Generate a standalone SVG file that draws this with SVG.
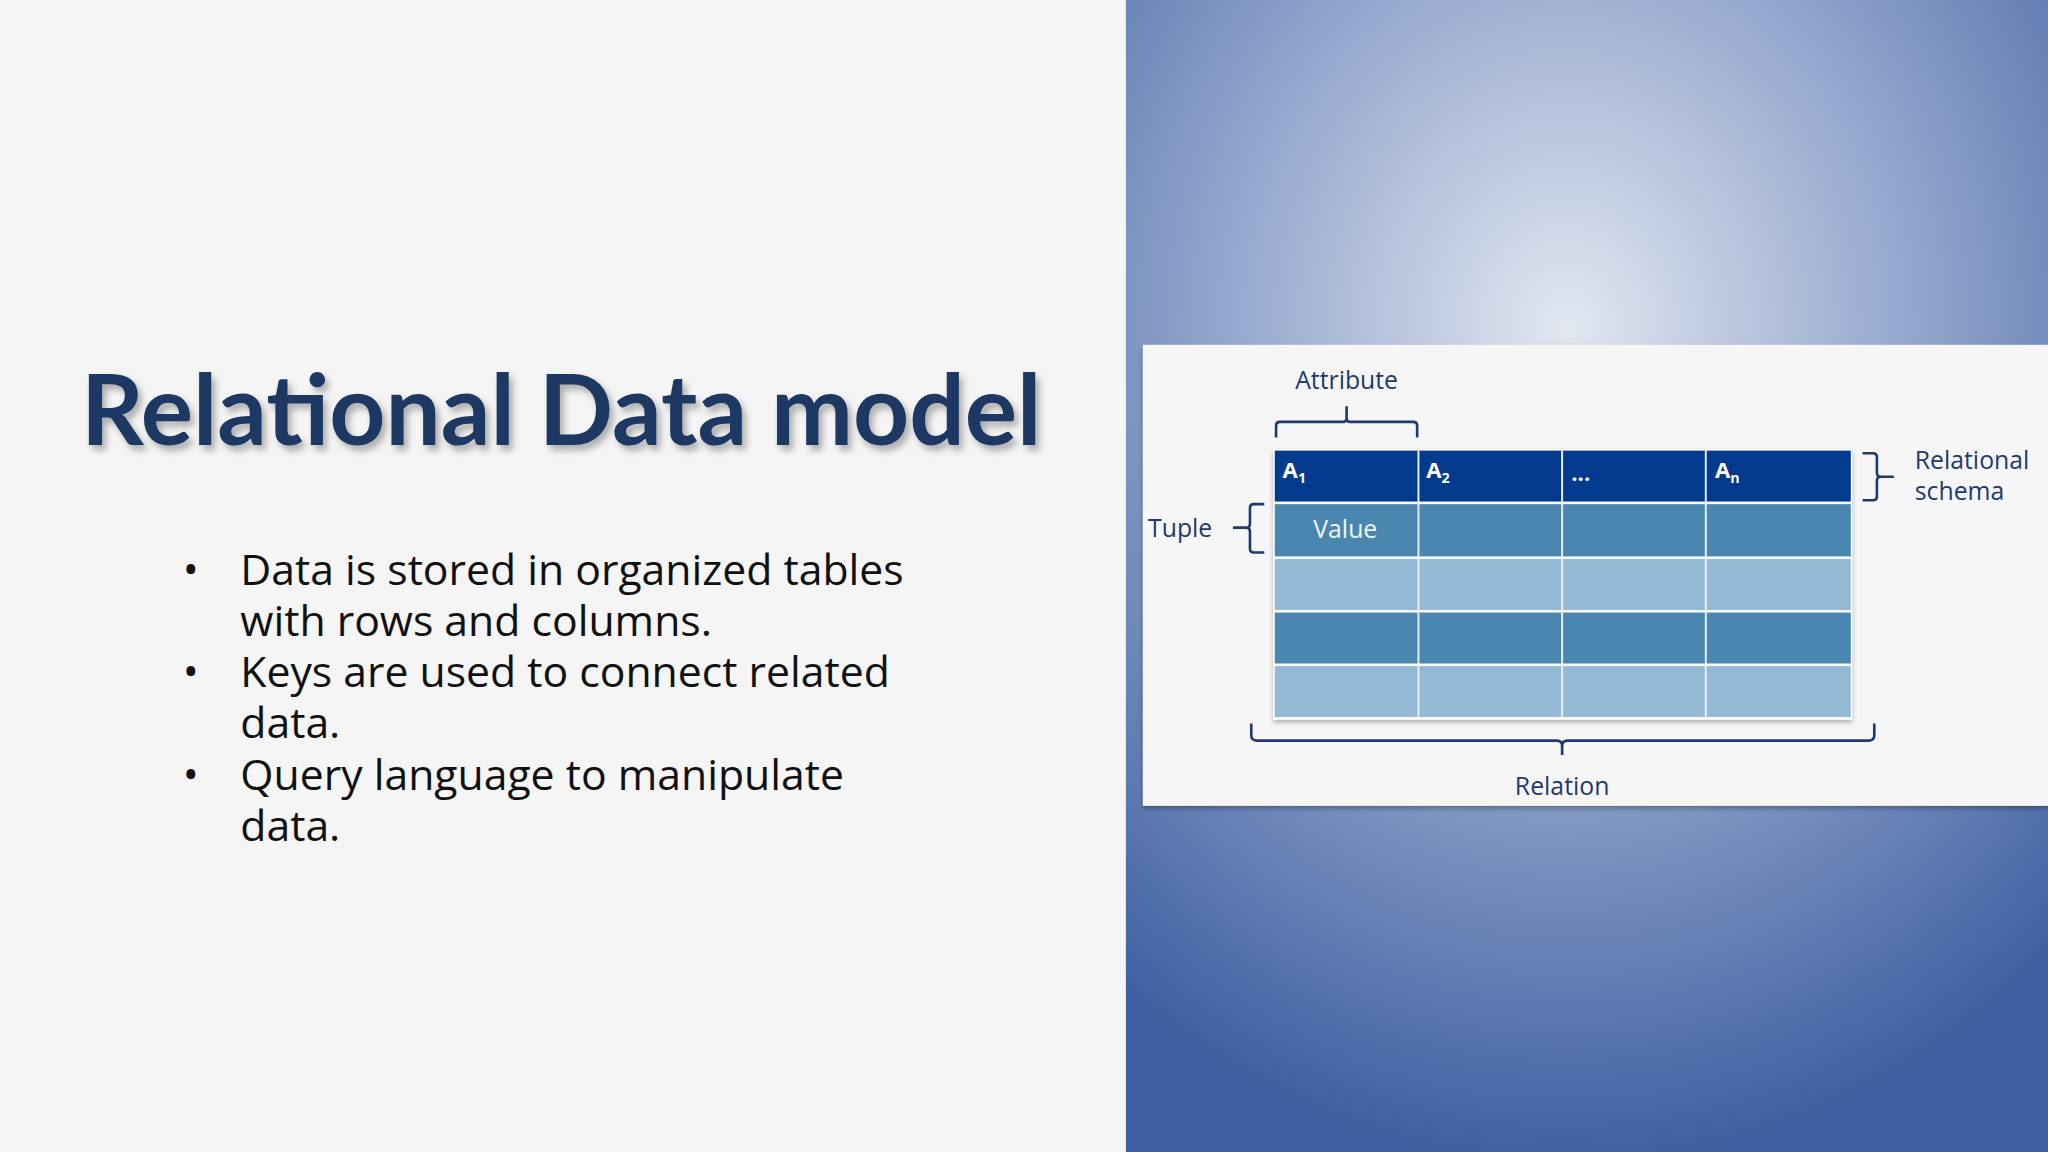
<svg xmlns="http://www.w3.org/2000/svg" width="2048" height="1152" viewBox="0 0 2048 1152">
<defs>
<radialGradient id="bg" cx="1200" cy="250" r="560" gradientUnits="userSpaceOnUse" gradientTransform="translate(1200 250) scale(1 1.15) translate(-1200 -250)">
<stop offset="0" stop-color="#e2e7f1"/><stop offset="0.4" stop-color="#9fb0d2"/><stop offset="1" stop-color="#3d5fa1"/>
</radialGradient>
<filter id="sh" x="-5%" y="-10%" width="110%" height="130%"><feDropShadow dx="3" dy="4" stdDeviation="3" flood-color="#000" flood-opacity="0.3"/></filter>
<filter id="cs"><feDropShadow dx="0" dy="2" stdDeviation="2" flood-color="#000" flood-opacity="0.3"/></filter>
</defs>
<style>
.b{fill:none;stroke:#1f3a6e;stroke-width:2}
.l{font-family:"Open Sans",sans-serif;font-size:19px;fill:#1f3a6e}
.h{font-family:"Open Sans",sans-serif;font-size:17px;font-weight:bold;fill:#fff}
.t{font-family:"Open Sans",sans-serif;font-size:32.7px;fill:#111}
.d{fill:#4a87b0}.g{fill:#93bad4}
</style>
<g transform="scale(1.306122)">
<rect x="0" y="0" width="1568" height="882" fill="#f5f5f5"/>
<rect x="862" y="0" width="706" height="882" fill="url(#bg)"/>
<text x="62" y="341" font-family="Lato, sans-serif" font-weight="bold" font-size="75" fill="#1f3864" filter="url(#sh)">Relational Data model</text>
<g id="bullets">
<text class="t" x="140" y="447">•</text><text class="t" x="184" y="448">Data is stored in organized tables</text>
<text class="t" x="184" y="487">with rows and columns.</text>
<text class="t" x="140" y="525">•</text><text class="t" x="184" y="526">Keys are used to connect related</text>
<text class="t" x="184" y="565">data.</text>
<text class="t" x="140" y="604">•</text><text class="t" x="184" y="605">Query language to manipulate</text>
<text class="t" x="184" y="644">data.</text>
</g>
<rect x="875" y="264" width="693" height="353" fill="#f6f6f6" filter="url(#cs)"/>
<g id="table">
<rect x="975" y="344" width="443" height="207" fill="#fff" filter="url(#cs)"/>
<rect x="976" y="345" width="441" height="39" fill="#023b8e"/>
<rect class="d" x="976" y="386" width="441" height="40"/>
<rect class="g" x="976" y="428" width="441" height="39"/>
<rect class="d" x="976" y="469" width="441" height="39"/>
<rect class="g" x="976" y="510" width="441" height="39"/>
<path d="M1086 345V549M1196 345V549M1306 345V549" stroke="#e8eef5" stroke-width="1.5"/>
<text class="h" x="982" y="366">A<tspan font-size="11" dy="4">1</tspan></text>
<text class="h" x="1092" y="366">A<tspan font-size="11" dy="4">2</tspan></text>
<text class="h" x="1203" y="368">...</text>
<text class="h" x="1313" y="366">A<tspan font-size="11" dy="4">n</tspan></text>
<text x="1030" y="412" text-anchor="middle" font-family="Open Sans, sans-serif" font-size="19" fill="#eef4fa">Value</text>
</g>
<g id="connectors">
<path class="b" d="M977 335V326Q977 323 980 323H1028Q1031 323 1031 320V311M1031 320Q1031 323 1034 323H1082Q1085 323 1085 326V335"/>
<path class="b" d="M1426 347H1434Q1437 347 1437 350V362Q1437 365 1440 365H1450M1440 365Q1437 365 1437 368V380Q1437 383 1434 383H1426"/>
<path class="b" d="M968 386H960Q957 386 957 389V401Q957 404 954 404H944M954 404Q957 404 957 407V420Q957 423 960 423H968"/>
<path class="b" d="M958 554V563Q958 567 962 567H1192Q1196 567 1196 571V578M1196 571Q1196 567 1200 567H1431Q1435 567 1435 563V554"/>
</g>
<text class="l" x="1031" y="298" text-anchor="middle">Attribute</text>
<text class="l" x="1466" y="359">Relational</text>
<text class="l" x="1466" y="383">schema</text>
<text class="l" x="879" y="411">Tuple</text>
<text class="l" x="1196" y="609" text-anchor="middle">Relation</text>
</g>
</svg>
